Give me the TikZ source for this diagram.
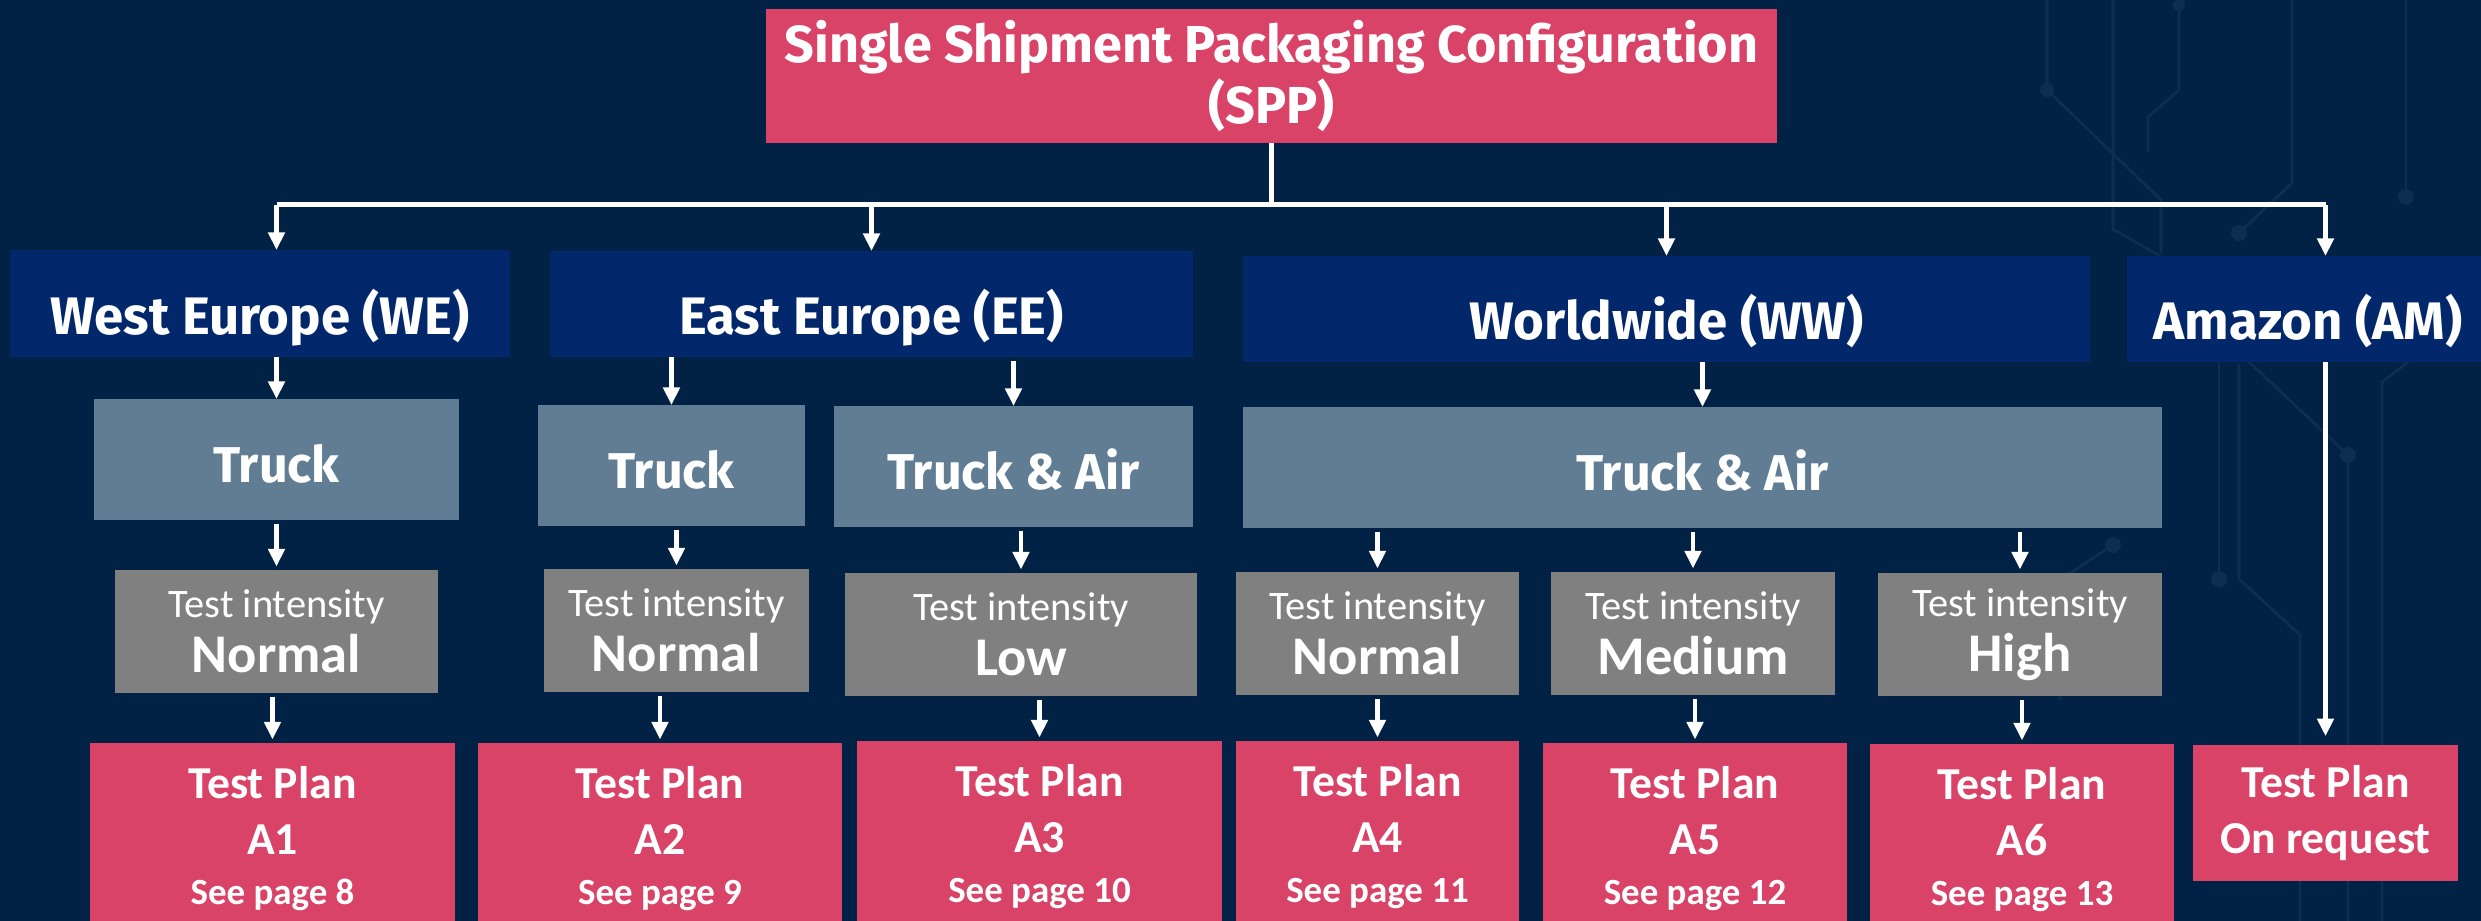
\documentclass[tikz,border=0pt]{standalone}
\usepackage{fontspec}
\setmainfont{Carlito}
\newfontfamily\headfont{Fira Sans}
\usetikzlibrary{arrows.meta,positioning}
\definecolor{bgnavy}{HTML}{012244}
\definecolor{planred}{HTML}{DA4368}
\definecolor{regionblue}{HTML}{03276B}
\definecolor{modesteel}{HTML}{607D94}
\definecolor{levelgray}{HTML}{808080}
\definecolor{tracecol}{HTML}{0C2E50}
\tikzset{
  box/.style={rectangle,inner sep=0pt,outer sep=0pt,text=white,align=center},
  top/.style={box,fill=planred,font=\headfont\bfseries\fontsize{14.8}{17.6}\selectfont},
  region/.style={box,fill=regionblue,font=\headfont\bfseries\fontsize{15}{16}\selectfont,text height=17.5pt,text depth=0pt},
  mode/.style={box,fill=modesteel,font=\headfont\bfseries\fontsize{14.3}{16}\selectfont,text height=13pt,text depth=0pt},
  level/.style={box,fill=levelgray,font=\fontsize{11.5}{15.6}\selectfont},
  plan/.style={box,fill=planred,font=\bfseries\fontsize{13}{15.9}\selectfont},
  trace/.style={draw=tracecol,line width=0.8pt},
  dot/.style={fill=tracecol},
}

\begin{document}
\begin{tikzpicture}[x=0.01cm,y=-0.01cm]
		\useasboundingbox (0,0) rectangle (2481,921);
		\fill[bgnavy] (0,0) rectangle (2481,921);

		\begin{scope}[trace]
			\draw (2047,0) -- (2047,90) -- (2161,200) -- (2161,253);
			\draw (2179,0) -- (2179,90) -- (2148,117) -- (2148,152);
			\draw (2292,0) -- (2292,183) -- (2239,233);
			\draw (2406,0) -- (2406,197);
			\draw (2113,0) -- (2113,229) -- (2170,262);
			\draw (2248,361) -- (2348,455) -- (2348,921);
			\draw (2219,361) -- (2219,579);
			\draw (2239,364) -- (2239,579) -- (2300,635) -- (2300,921);
			\draw (2382,921) -- (2382,382) -- (2408,362);
			\draw (2113,545) -- (2060,580) -- (2060,700);
			\fill[dot] (2047,90) circle (7) (2179,5) circle (6) (2239,233) circle (8)
				(2406,197) circle (8) (2348,455) circle (8) (2219,579) circle (8) (2113,545) circle (8);
		\end{scope}

		\node[top,minimum width=10.11cm,minimum height=1.33cm] (spp) at (1271.5,76) {Single Shipment Packaging Configuration\\(SPP)};

		\node[region,minimum width=5cm,minimum height=1.07cm] (west) at (260,303.5) {West Europe (WE)};
		\node[region,minimum width=6.43cm,minimum height=1.06cm] (east) at (871.5,304) {East Europe (EE)};
		\node[region,minimum width=8.47cm,minimum height=1.06cm] (world) at (1666.5,309) {Worldwide (WW)};
		\node[region,minimum width=3.62cm,minimum height=1.06cm] (amazon) at (2308,309) {Amazon (AM)};

		\node[mode,minimum width=3.65cm,minimum height=1.21cm] (westtruck) at (276.5,459.5) {Truck};
		\node[mode,minimum width=2.67cm,minimum height=1.21cm] (easttruck) at (671.5,465.5) {Truck};
		\node[mode,minimum width=3.59cm,minimum height=1.21cm] (eastair) at (1013.5,466.5) {Truck \& Air};
		\node[mode,minimum width=9.19cm,minimum height=1.21cm] (worldair) at (1702.5,467.5) {Truck \& Air};

		\node[level,minimum width=3.23cm,minimum height=1.23cm] (westnormal) at (276.5,631.5) {Test intensity\\{\bfseries\fontsize{15.5}{15.6}\selectfont Normal}};
		\node[level,minimum width=2.65cm,minimum height=1.23cm] (eastnormal) at (676.5,630.5) {Test intensity\\{\bfseries\fontsize{15.5}{15.6}\selectfont Normal}};
		\node[level,minimum width=3.52cm,minimum height=1.23cm] (eastlow) at (1021,634.5) {Test intensity\\{\bfseries\fontsize{15.5}{15.6}\selectfont Low}};
		\node[level,minimum width=2.83cm,minimum height=1.23cm] (worldnormal) at (1377.5,633.5) {Test intensity\\{\bfseries\fontsize{15.5}{15.6}\selectfont Normal}};
		\node[level,minimum width=2.84cm,minimum height=1.23cm] (worldmedium) at (1693,633.5) {Test intensity\\{\bfseries\fontsize{15.5}{15.6}\selectfont Medium}};
		\node[level,minimum width=2.84cm,minimum height=1.23cm] (worldhigh) at (2020,634.5) {Test intensity\\{\bfseries\fontsize{15.5}{15.6}\selectfont High}};

		\node[plan,minimum width=3.65cm,minimum height=1.92cm] (planone) at (272.5,839) {Test Plan\\A1\\[-1.7pt]{\fontsize{10.5}{12}\selectfont See page 8}};
		\node[plan,minimum width=3.64cm,minimum height=1.92cm] (plantwo) at (660,839) {Test Plan\\A2\\[-1.7pt]{\fontsize{10.5}{12}\selectfont See page 9}};
		\node[plan,minimum width=3.65cm,minimum height=1.92cm] (planthree) at (1039.5,837) {Test Plan\\A3\\[-1.7pt]{\fontsize{10.5}{12}\selectfont See page 10}};
		\node[plan,minimum width=2.83cm,minimum height=1.92cm] (planfour) at (1377.5,837) {Test Plan\\A4\\[-1.7pt]{\fontsize{10.5}{12}\selectfont See page 11}};
		\node[plan,minimum width=3.04cm,minimum height=1.92cm] (planfive) at (1695,839) {Test Plan\\A5\\[-1.7pt]{\fontsize{10.5}{12}\selectfont See page 12}};
		\node[plan,minimum width=3.04cm,minimum height=1.92cm] (plansix) at (2022,840) {Test Plan\\A6\\[-1.7pt]{\fontsize{10.5}{12}\selectfont See page 13}};
		\node[plan,minimum width=2.65cm,minimum height=1.36cm] (planrequest) at (2325.5,813) {Test Plan\\On request};

		\begin{scope}[>={Triangle[length=5pt,width=4.6pt]},line width=1.4pt,white]
			\coordinate (bus) at ([yshift=-0.62cm]spp.south);
			\draw (spp.south) -- (bus);
			\draw (bus -| westtruck) -- (bus -| planrequest);
			\path (bus -| westtruck) edge[->] (west.north -| westtruck);
			\path (bus -| east) edge[->] (east.north);
			\path (bus -| world) edge[->] (world.north);
			\path (bus -| planrequest) edge[->] (amazon.north -| planrequest);

			\path (west.south -| westtruck) edge[->] (westtruck.north);
			\path (east.south -| easttruck) edge[->] (easttruck.north);
			\path (east.south -| eastair) edge[->,shorten <=1pt] (eastair.north);
			\path (world.south -| worldair) edge[->] (worldair.north);
			\path (amazon.south -| planrequest) edge[->,shorten >=2.5pt] (planrequest.north);

			\path (westtruck.south) edge[->,shorten <=1pt,shorten >=1pt] (westnormal.north);
			\path (easttruck.south -| eastnormal) edge[->,shorten <=1pt,shorten >=1pt] (eastnormal.north);
			\path (eastair.south -| eastlow) edge[->,shorten <=1pt,shorten >=1pt] (eastlow.north);
			\path (worldair.south -| worldnormal) edge[->,shorten <=1pt,shorten >=1pt] (worldnormal.north);
			\path (worldair.south -| worldmedium) edge[->,shorten <=1pt,shorten >=1pt] (worldmedium.north);
			\path (worldair.south -| worldhigh) edge[->,shorten <=1pt,shorten >=1pt] (worldhigh.north);

			\path (westnormal.south -| planone) edge[->,shorten <=1pt,shorten >=1pt] (planone.north);
			\path (eastnormal.south -| plantwo) edge[->,shorten <=1pt,shorten >=1pt] (plantwo.north);
			\path (eastlow.south -| planthree) edge[->,shorten <=1pt,shorten >=1pt] (planthree.north);
			\path (worldnormal.south -| planfour) edge[->,shorten <=1pt,shorten >=1pt] (planfour.north);
			\path (worldmedium.south -| planfive) edge[->,shorten <=1pt,shorten >=1pt] (planfive.north);
			\path (worldhigh.south -| plansix) edge[->,shorten <=1pt,shorten >=1pt] (plansix.north);
		\end{scope}
	\end{tikzpicture}
\end{document}
